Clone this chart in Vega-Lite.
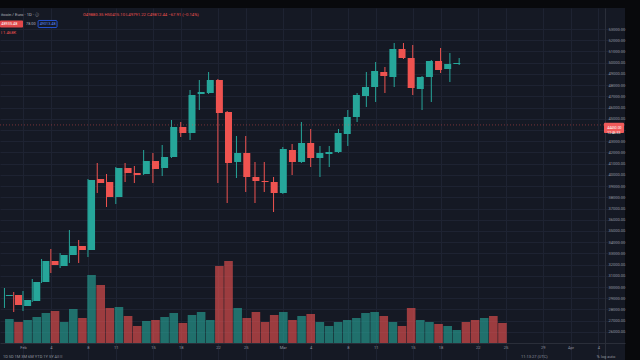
{
  "$schema": "https://vega.github.io/schema/vega-lite/v6.json",
  "width": 625,
  "height": 352,
  "autosize": {"type": "none"},
  "padding": {"left": 0, "top": 8, "right": 15, "bottom": 0},
  "background": "#08090c",
  "config": {
    "view": {"stroke": null, "fill": "#151924"},
    "font": "Roboto"
  },
  "datasets": {
    "ohlc": [
      {"date": "2021-01-30", "open": 29202, "high": 29915, "low": 28133, "close": 29291},
      {"date": "2021-01-31", "open": 29291, "high": 29559, "low": 27776, "close": 28400},
      {"date": "2021-02-01", "open": 28311, "high": 29648, "low": 27866, "close": 28846},
      {"date": "2021-02-02", "open": 28757, "high": 30717, "low": 28668, "close": 30450},
      {"date": "2021-02-03", "open": 30450, "high": 32500, "low": 30361, "close": 32322},
      {"date": "2021-02-04", "open": 32322, "high": 33391, "low": 31252, "close": 31965},
      {"date": "2021-02-05", "open": 31876, "high": 33035, "low": 31698, "close": 32857},
      {"date": "2021-02-06", "open": 32857, "high": 35085, "low": 32144, "close": 33659},
      {"date": "2021-02-07", "open": 33659, "high": 34194, "low": 32144, "close": 33302},
      {"date": "2021-02-08", "open": 33302, "high": 39630, "low": 32678, "close": 39541},
      {"date": "2021-02-09", "open": 39630, "high": 41057, "low": 38383, "close": 39274},
      {"date": "2021-02-10", "open": 39363, "high": 40076, "low": 37135, "close": 38026},
      {"date": "2021-02-11", "open": 38026, "high": 40700, "low": 37402, "close": 40611},
      {"date": "2021-02-12", "open": 40611, "high": 41057, "low": 39363, "close": 40165},
      {"date": "2021-02-13", "open": 40165, "high": 40789, "low": 39274, "close": 39987},
      {"date": "2021-02-14", "open": 40076, "high": 42215, "low": 39987, "close": 41235},
      {"date": "2021-02-15", "open": 41235, "high": 41948, "low": 39274, "close": 40522},
      {"date": "2021-02-16", "open": 40611, "high": 42661, "low": 39898, "close": 41591},
      {"date": "2021-02-17", "open": 41591, "high": 44889, "low": 41502, "close": 44265},
      {"date": "2021-02-18", "open": 44265, "high": 44711, "low": 43374, "close": 43730},
      {"date": "2021-02-19", "open": 43730, "high": 47563, "low": 43107, "close": 47117},
      {"date": "2021-02-20", "open": 47207, "high": 48454, "low": 45780, "close": 47385},
      {"date": "2021-02-21", "open": 47296, "high": 49167, "low": 47207, "close": 48454},
      {"date": "2021-02-22", "open": 48454, "high": 48543, "low": 39274, "close": 45513},
      {"date": "2021-02-23", "open": 45602, "high": 45691, "low": 37491, "close": 41057},
      {"date": "2021-02-24", "open": 41146, "high": 43463, "low": 39720, "close": 41948},
      {"date": "2021-02-25", "open": 41948, "high": 43463, "low": 38472, "close": 39809},
      {"date": "2021-02-26", "open": 39809, "high": 41146, "low": 37491, "close": 39452},
      {"date": "2021-02-27", "open": 39452, "high": 41146, "low": 38472, "close": 39363},
      {"date": "2021-02-28", "open": 39363, "high": 39809, "low": 36689, "close": 38383},
      {"date": "2021-03-01", "open": 38383, "high": 42483, "low": 38300, "close": 42304},
      {"date": "2021-03-02", "open": 42215, "high": 42750, "low": 39987, "close": 41146},
      {"date": "2021-03-03", "open": 41146, "high": 44711, "low": 41057, "close": 42839},
      {"date": "2021-03-04", "open": 42839, "high": 44087, "low": 40700, "close": 41502},
      {"date": "2021-03-05", "open": 41502, "high": 42572, "low": 39809, "close": 41948},
      {"date": "2021-03-06", "open": 41859, "high": 42572, "low": 40700, "close": 42037},
      {"date": "2021-03-07", "open": 42037, "high": 44087, "low": 41948, "close": 43730},
      {"date": "2021-03-08", "open": 43641, "high": 45780, "low": 42572, "close": 45157},
      {"date": "2021-03-09", "open": 45157, "high": 47296, "low": 44711, "close": 47117},
      {"date": "2021-03-10", "open": 47028, "high": 49167, "low": 46050, "close": 47830},
      {"date": "2021-03-11", "open": 47830, "high": 50059, "low": 46494, "close": 49257},
      {"date": "2021-03-12", "open": 49167, "high": 49613, "low": 47296, "close": 48811},
      {"date": "2021-03-13", "open": 48722, "high": 51752, "low": 47830, "close": 51217},
      {"date": "2021-03-14", "open": 51217, "high": 51752, "low": 50326, "close": 50415},
      {"date": "2021-03-15", "open": 50415, "high": 51574, "low": 47117, "close": 47741},
      {"date": "2021-03-16", "open": 47652, "high": 48811, "low": 45780, "close": 48722},
      {"date": "2021-03-17", "open": 48722, "high": 50237, "low": 46494, "close": 50148},
      {"date": "2021-03-18", "open": 50148, "high": 51307, "low": 49078, "close": 49346},
      {"date": "2021-03-19", "open": 49435, "high": 50861, "low": 48276, "close": 49880},
      {"date": "2021-03-20", "open": 49880, "high": 50415, "low": 49791, "close": 49970}
    ],
    "volume": [
      {"date": "2021-01-30", "volume": 3600, "dir": "up"},
      {"date": "2021-01-31", "volume": 3150, "dir": "down"},
      {"date": "2021-02-01", "volume": 3450, "dir": "up"},
      {"date": "2021-02-02", "volume": 3900, "dir": "up"},
      {"date": "2021-02-03", "volume": 4500, "dir": "up"},
      {"date": "2021-02-04", "volume": 4800, "dir": "down"},
      {"date": "2021-02-05", "volume": 3150, "dir": "up"},
      {"date": "2021-02-06", "volume": 5100, "dir": "up"},
      {"date": "2021-02-07", "volume": 3750, "dir": "down"},
      {"date": "2021-02-08", "volume": 10200, "dir": "up"},
      {"date": "2021-02-09", "volume": 8700, "dir": "down"},
      {"date": "2021-02-10", "volume": 5250, "dir": "down"},
      {"date": "2021-02-11", "volume": 5400, "dir": "up"},
      {"date": "2021-02-12", "volume": 4050, "dir": "down"},
      {"date": "2021-02-13", "volume": 2550, "dir": "down"},
      {"date": "2021-02-14", "volume": 3300, "dir": "up"},
      {"date": "2021-02-15", "volume": 3450, "dir": "down"},
      {"date": "2021-02-16", "volume": 3900, "dir": "up"},
      {"date": "2021-02-17", "volume": 4500, "dir": "up"},
      {"date": "2021-02-18", "volume": 3000, "dir": "down"},
      {"date": "2021-02-19", "volume": 4200, "dir": "up"},
      {"date": "2021-02-20", "volume": 4650, "dir": "up"},
      {"date": "2021-02-21", "volume": 3450, "dir": "up"},
      {"date": "2021-02-22", "volume": 11550, "dir": "down"},
      {"date": "2021-02-23", "volume": 12300, "dir": "down"},
      {"date": "2021-02-24", "volume": 5250, "dir": "up"},
      {"date": "2021-02-25", "volume": 3750, "dir": "down"},
      {"date": "2021-02-26", "volume": 4650, "dir": "down"},
      {"date": "2021-02-27", "volume": 3150, "dir": "down"},
      {"date": "2021-02-28", "volume": 4200, "dir": "down"},
      {"date": "2021-03-01", "volume": 4650, "dir": "up"},
      {"date": "2021-03-02", "volume": 3450, "dir": "down"},
      {"date": "2021-03-03", "volume": 4050, "dir": "up"},
      {"date": "2021-03-04", "volume": 4350, "dir": "down"},
      {"date": "2021-03-05", "volume": 3150, "dir": "up"},
      {"date": "2021-03-06", "volume": 2550, "dir": "up"},
      {"date": "2021-03-07", "volume": 3150, "dir": "up"},
      {"date": "2021-03-08", "volume": 3450, "dir": "up"},
      {"date": "2021-03-09", "volume": 3750, "dir": "up"},
      {"date": "2021-03-10", "volume": 4500, "dir": "up"},
      {"date": "2021-03-11", "volume": 4650, "dir": "up"},
      {"date": "2021-03-12", "volume": 4050, "dir": "down"},
      {"date": "2021-03-13", "volume": 3150, "dir": "up"},
      {"date": "2021-03-14", "volume": 2550, "dir": "down"},
      {"date": "2021-03-15", "volume": 5250, "dir": "down"},
      {"date": "2021-03-16", "volume": 3450, "dir": "up"},
      {"date": "2021-03-17", "volume": 3150, "dir": "up"},
      {"date": "2021-03-18", "volume": 2850, "dir": "down"},
      {"date": "2021-03-19", "volume": 2550, "dir": "up"},
      {"date": "2021-03-20", "volume": 1950, "dir": "up"},
      {"date": "2021-03-21", "volume": 3150, "dir": "down"},
      {"date": "2021-03-22", "volume": 3450, "dir": "down"},
      {"date": "2021-03-23", "volume": 3750, "dir": "up"},
      {"date": "2021-03-24", "volume": 4050, "dir": "down"},
      {"date": "2021-03-25", "volume": 3000, "dir": "down"}
    ],
    "lastPrice": [{"price": 44450}]
  },
  "layer": [
    {
      "data": {"name": "ohlc"},
      "mark": {"type": "rule", "strokeWidth": 1},
      "encoding": {
        "x": {"field": "date", "type": "temporal", "title": null,
          "scale": {"type": "utc", "domain": [{"year": 2021, "month": 1, "date": 29, "hours": 12, "minutes": 31, "utc": true}, {"year": 2021, "month": 4, "date": 6, "hours": 20, "minutes": 54, "utc": true}]},
          "axis": {"orient": "bottom", "offset": -17, "labelPadding": 2, "ticks": false, "labelFontSize": 4, "labelColor": "#8f939e", "labelFont": "Roboto", "domain": true, "domainColor": "#2a2e39", "grid": true, "gridColor": "#1e2332", "title": null,
            "values": [
              {"year": 2021, "month": 2, "date": 1, "utc": true}, {"year": 2021, "month": 2, "date": 4, "utc": true},
              {"year": 2021, "month": 2, "date": 8, "utc": true}, {"year": 2021, "month": 2, "date": 11, "utc": true},
              {"year": 2021, "month": 2, "date": 15, "utc": true}, {"year": 2021, "month": 2, "date": 18, "utc": true},
              {"year": 2021, "month": 2, "date": 22, "utc": true}, {"year": 2021, "month": 2, "date": 25, "utc": true},
              {"year": 2021, "month": 3, "date": 1, "utc": true}, {"year": 2021, "month": 3, "date": 4, "utc": true},
              {"year": 2021, "month": 3, "date": 8, "utc": true}, {"year": 2021, "month": 3, "date": 11, "utc": true},
              {"year": 2021, "month": 3, "date": 15, "utc": true}, {"year": 2021, "month": 3, "date": 18, "utc": true},
              {"year": 2021, "month": 3, "date": 22, "utc": true}, {"year": 2021, "month": 3, "date": 25, "utc": true},
              {"year": 2021, "month": 3, "date": 29, "utc": true}, {"year": 2021, "month": 4, "date": 1, "utc": true},
              {"year": 2021, "month": 4, "date": 4, "utc": true}
            ],
            "labelExpr": "utcdate(datum.value) == 1 ? utcFormat(datum.value, '%b') : utcFormat(datum.value, '%-d')"}},
        "y": {"field": "low", "type": "quantitative", "title": null,
          "scale": {"domain": [23498, 54872], "nice": false, "zero": false},
          "axis": {"orient": "right", "offset": -20, "labelPadding": 3, "ticks": false, "labelFontSize": 4, "labelColor": "#8f939e", "labelFont": "Roboto", "domain": true, "domainColor": "#2a2e39", "grid": true, "gridColor": "#1e2332", "title": null,
            "labelExpr": "datum.value == 44000 ? '' : format(datum.value, '.2f')",
            "values": [26000, 27000, 28000, 29000, 30000, 31000, 32000, 33000, 34000, 35000, 36000, 37000, 38000, 39000, 40000, 41000, 42000, 43000, 44000, 45000, 46000, 47000, 48000, 49000, 50000, 51000, 52000, 53000]}},
        "y2": {"field": "high"},
        "color": {"condition": {"test": "datum.close >= datum.open", "value": "#26a69a"}, "value": "#ef5350"}
      }
    },
    {
      "data": {"name": "volume"},
      "mark": {"type": "bar", "size": 8.6, "opacity": 0.62},
      "encoding": {
        "x": {"field": "date", "type": "temporal", "axis": null,
          "scale": {"type": "utc", "domain": [{"year": 2021, "month": 1, "date": 29, "hours": 12, "minutes": 31, "utc": true}, {"year": 2021, "month": 4, "date": 6, "hours": 20, "minutes": 54, "utc": true}]}},
        "y": {"field": "volume", "type": "quantitative", "axis": null, "scale": {"domain": [-2550, 50250], "nice": false, "zero": false}},
        "y2": {"datum": 0},
        "color": {"field": "dir", "type": "nominal", "legend": null, "scale": {"domain": ["up", "down"], "range": ["#26a69a", "#ef5350"]}}
      }
    },
    {
      "data": {"name": "ohlc"},
      "mark": {"type": "bar", "size": 7},
      "encoding": {
        "x": {"field": "date", "type": "temporal", "axis": null,
          "scale": {"type": "utc", "domain": [{"year": 2021, "month": 1, "date": 29, "hours": 12, "minutes": 31, "utc": true}, {"year": 2021, "month": 4, "date": 6, "hours": 20, "minutes": 54, "utc": true}]}},
        "y": {"field": "open", "type": "quantitative", "axis": null, "scale": {"domain": [23498, 54872], "nice": false, "zero": false}},
        "y2": {"field": "close"},
        "color": {"condition": {"test": "datum.close >= datum.open", "value": "#26a69a"}, "value": "#ef5350"}
      }
    },
    {
      "data": {"name": "lastPrice"},
      "mark": {"type": "rule", "color": "#ef5350", "opacity": 0.45, "strokeDash": [1, 2], "strokeWidth": 1},
      "encoding": {
        "y": {"field": "price", "type": "quantitative", "axis": null, "scale": {"domain": [23498, 54872], "nice": false, "zero": false}}
      }
    },
    {
      "data": {"name": "lastPrice"},
      "mark": {"type": "rect", "color": "#f05a5a", "cornerRadius": 1},
      "encoding": {
        "x": {"datum": {"year": 2021, "month": 4, "date": 4, "hours": 14, "minutes": 36, "utc": true}, "type": "temporal", "axis": null,
          "scale": {"type": "utc", "domain": [{"year": 2021, "month": 1, "date": 29, "hours": 12, "minutes": 31, "utc": true}, {"year": 2021, "month": 4, "date": 6, "hours": 20, "minutes": 54, "utc": true}]}},
        "x2": {"datum": {"year": 2021, "month": 4, "date": 6, "hours": 18, "minutes": 20, "utc": true}},
        "y": {"datum": 44640, "type": "quantitative", "axis": null, "scale": {"domain": [23498, 54872], "nice": false, "zero": false}},
        "y2": {"datum": 43740}
      }
    },
    {
      "data": {"name": "lastPrice"},
      "mark": {"type": "text", "color": "#ffffff", "fontSize": 3.4, "align": "left", "baseline": "middle", "lineHeight": 5},
      "encoding": {
        "x": {"datum": {"year": 2021, "month": 4, "date": 4, "hours": 23, "utc": true}, "type": "temporal", "axis": null,
          "scale": {"type": "utc", "domain": [{"year": 2021, "month": 1, "date": 29, "hours": 12, "minutes": 31, "utc": true}, {"year": 2021, "month": 4, "date": 6, "hours": 20, "minutes": 54, "utc": true}]}},
        "y": {"datum": 44190, "type": "quantitative", "axis": null, "scale": {"domain": [23498, 54872], "nice": false, "zero": false}},
        "text": {"value": ["44450.00", "12:46:33"]}
      }
    },
    {
      "data": {"name": "lastPrice"},
      "mark": {"type": "text", "color": "#b2b5be", "fontSize": 4.2, "align": "left", "baseline": "middle"},
      "encoding": {
        "x": {"datum": {"year": 2021, "month": 1, "date": 29, "hours": 15, "utc": true}, "type": "temporal", "axis": null,
          "scale": {"type": "utc", "domain": [{"year": 2021, "month": 1, "date": 29, "hours": 12, "minutes": 31, "utc": true}, {"year": 2021, "month": 4, "date": 6, "hours": 20, "minutes": 54, "utc": true}]}},
        "y": {"datum": 54248, "type": "quantitative", "axis": null, "scale": {"domain": [23498, 54872], "nice": false, "zero": false}},
        "text": {"value": "itcoin / Euro · 1D · ⓘ"}
      }
    },
    {
      "data": {"name": "lastPrice"},
      "mark": {"type": "text", "color": "#ef5350", "fontSize": 4.2, "align": "left", "baseline": "middle"},
      "encoding": {
        "x": {"datum": {"year": 2021, "month": 2, "date": 7, "hours": 11, "utc": true}, "type": "temporal", "axis": null,
          "scale": {"type": "utc", "domain": [{"year": 2021, "month": 1, "date": 29, "hours": 12, "minutes": 31, "utc": true}, {"year": 2021, "month": 4, "date": 6, "hours": 20, "minutes": 54, "utc": true}]}},
        "y": {"datum": 54248, "type": "quantitative", "axis": null, "scale": {"domain": [23498, 54872], "nice": false, "zero": false}},
        "text": {"value": "O49880.35  H50415.10  L49791.22  C49812.44  −67.91 (−0.14%)"}
      }
    },
    {
      "data": {"name": "lastPrice"},
      "mark": {"type": "rect", "color": "#e0484b", "cornerRadius": 1},
      "encoding": {
        "x": {"datum": {"year": 2021, "month": 1, "date": 29, "hours": 12, "minutes": 31, "utc": true}, "type": "temporal", "axis": null,
          "scale": {"type": "utc", "domain": [{"year": 2021, "month": 1, "date": 29, "hours": 12, "minutes": 31, "utc": true}, {"year": 2021, "month": 4, "date": 6, "hours": 20, "minutes": 54, "utc": true}]}},
        "x2": {"datum": {"year": 2021, "month": 2, "date": 1, "utc": true}},
        "y": {"datum": 53760, "type": "quantitative", "axis": null, "scale": {"domain": [23498, 54872], "nice": false, "zero": false}},
        "y2": {"datum": 53130}
      }
    },
    {
      "data": {"name": "lastPrice"},
      "mark": {"type": "text", "color": "#ffffff", "fontSize": 3.8, "align": "left", "baseline": "middle"},
      "encoding": {
        "x": {"datum": {"year": 2021, "month": 1, "date": 29, "hours": 16, "utc": true}, "type": "temporal", "axis": null,
          "scale": {"type": "utc", "domain": [{"year": 2021, "month": 1, "date": 29, "hours": 12, "minutes": 31, "utc": true}, {"year": 2021, "month": 4, "date": 6, "hours": 20, "minutes": 54, "utc": true}]}},
        "y": {"datum": 53446, "type": "quantitative", "axis": null, "scale": {"domain": [23498, 54872], "nice": false, "zero": false}},
        "text": {"value": "48935.48"}
      }
    },
    {
      "data": {"name": "lastPrice"},
      "mark": {"type": "text", "color": "#b2b5be", "fontSize": 3.8, "align": "left", "baseline": "middle"},
      "encoding": {
        "x": {"datum": {"year": 2021, "month": 2, "date": 1, "hours": 8, "utc": true}, "type": "temporal", "axis": null,
          "scale": {"type": "utc", "domain": [{"year": 2021, "month": 1, "date": 29, "hours": 12, "minutes": 31, "utc": true}, {"year": 2021, "month": 4, "date": 6, "hours": 20, "minutes": 54, "utc": true}]}},
        "y": {"datum": 53446, "type": "quantitative", "axis": null, "scale": {"domain": [23498, 54872], "nice": false, "zero": false}},
        "text": {"value": "78.00"}
      }
    },
    {
      "data": {"name": "lastPrice"},
      "mark": {"type": "rect", "fill": "#151924", "stroke": "#2962ff", "strokeWidth": 0.8, "cornerRadius": 1},
      "encoding": {
        "x": {"datum": {"year": 2021, "month": 2, "date": 2, "hours": 15, "utc": true}, "type": "temporal", "axis": null,
          "scale": {"type": "utc", "domain": [{"year": 2021, "month": 1, "date": 29, "hours": 12, "minutes": 31, "utc": true}, {"year": 2021, "month": 4, "date": 6, "hours": 20, "minutes": 54, "utc": true}]}},
        "x2": {"datum": {"year": 2021, "month": 2, "date": 4, "hours": 16, "utc": true}},
        "y": {"datum": 53760, "type": "quantitative", "axis": null, "scale": {"domain": [23498, 54872], "nice": false, "zero": false}},
        "y2": {"datum": 53130}
      }
    },
    {
      "data": {"name": "lastPrice"},
      "mark": {"type": "text", "color": "#5b8cff", "fontSize": 3.8, "align": "left", "baseline": "middle"},
      "encoding": {
        "x": {"datum": {"year": 2021, "month": 2, "date": 2, "hours": 19, "utc": true}, "type": "temporal", "axis": null,
          "scale": {"type": "utc", "domain": [{"year": 2021, "month": 1, "date": 29, "hours": 12, "minutes": 31, "utc": true}, {"year": 2021, "month": 4, "date": 6, "hours": 20, "minutes": 54, "utc": true}]}},
        "y": {"datum": 53446, "type": "quantitative", "axis": null, "scale": {"domain": [23498, 54872], "nice": false, "zero": false}},
        "text": {"value": "49013.48"}
      }
    },
    {
      "data": {"name": "lastPrice"},
      "mark": {"type": "text", "color": "#ef5350", "fontSize": 4.2, "align": "left", "baseline": "middle"},
      "encoding": {
        "x": {"datum": {"year": 2021, "month": 1, "date": 29, "hours": 15, "utc": true}, "type": "temporal", "axis": null,
          "scale": {"type": "utc", "domain": [{"year": 2021, "month": 1, "date": 29, "hours": 12, "minutes": 31, "utc": true}, {"year": 2021, "month": 4, "date": 6, "hours": 20, "minutes": 54, "utc": true}]}},
        "y": {"datum": 52643, "type": "quantitative", "axis": null, "scale": {"domain": [23498, 54872], "nice": false, "zero": false}},
        "text": {"value": "l  1.468K"}
      }
    },
    {
      "data": {"name": "lastPrice"},
      "mark": {"type": "text", "color": "#8f939e", "fontSize": 4, "align": "left", "baseline": "middle"},
      "encoding": {
        "x": {"datum": {"year": 2021, "month": 1, "date": 29, "hours": 20, "utc": true}, "type": "temporal", "axis": null,
          "scale": {"type": "utc", "domain": [{"year": 2021, "month": 1, "date": 29, "hours": 12, "minutes": 31, "utc": true}, {"year": 2021, "month": 4, "date": 6, "hours": 20, "minutes": 54, "utc": true}]}},
        "y": {"datum": 23766, "type": "quantitative", "axis": null, "scale": {"domain": [23498, 54872], "nice": false, "zero": false}},
        "text": {"value": "1D   5D   1M   3M   6M   YTD   1Y   5Y   All    ⌸"}
      }
    },
    {
      "data": {"name": "lastPrice"},
      "mark": {"type": "text", "color": "#8f939e", "fontSize": 4, "align": "left", "baseline": "middle"},
      "encoding": {
        "x": {"datum": {"year": 2021, "month": 3, "date": 26, "hours": 16, "utc": true}, "type": "temporal", "axis": null,
          "scale": {"type": "utc", "domain": [{"year": 2021, "month": 1, "date": 29, "hours": 12, "minutes": 31, "utc": true}, {"year": 2021, "month": 4, "date": 6, "hours": 20, "minutes": 54, "utc": true}]}},
        "y": {"datum": 23766, "type": "quantitative", "axis": null, "scale": {"domain": [23498, 54872], "nice": false, "zero": false}},
        "text": {"value": "11:13:27 (UTC)"}
      }
    },
    {
      "data": {"name": "lastPrice"},
      "mark": {"type": "text", "color": "#8f939e", "fontSize": 4, "align": "left", "baseline": "middle"},
      "encoding": {
        "x": {"datum": {"year": 2021, "month": 4, "date": 3, "hours": 20, "utc": true}, "type": "temporal", "axis": null,
          "scale": {"type": "utc", "domain": [{"year": 2021, "month": 1, "date": 29, "hours": 12, "minutes": 31, "utc": true}, {"year": 2021, "month": 4, "date": 6, "hours": 20, "minutes": 54, "utc": true}]}},
        "y": {"datum": 23766, "type": "quantitative", "axis": null, "scale": {"domain": [23498, 54872], "nice": false, "zero": false}},
        "text": {"value": "%   log   auto"}
      }
    }
  ],
  "resolve": {"scale": {"x": "independent", "y": "independent", "color": "independent"}}
}
